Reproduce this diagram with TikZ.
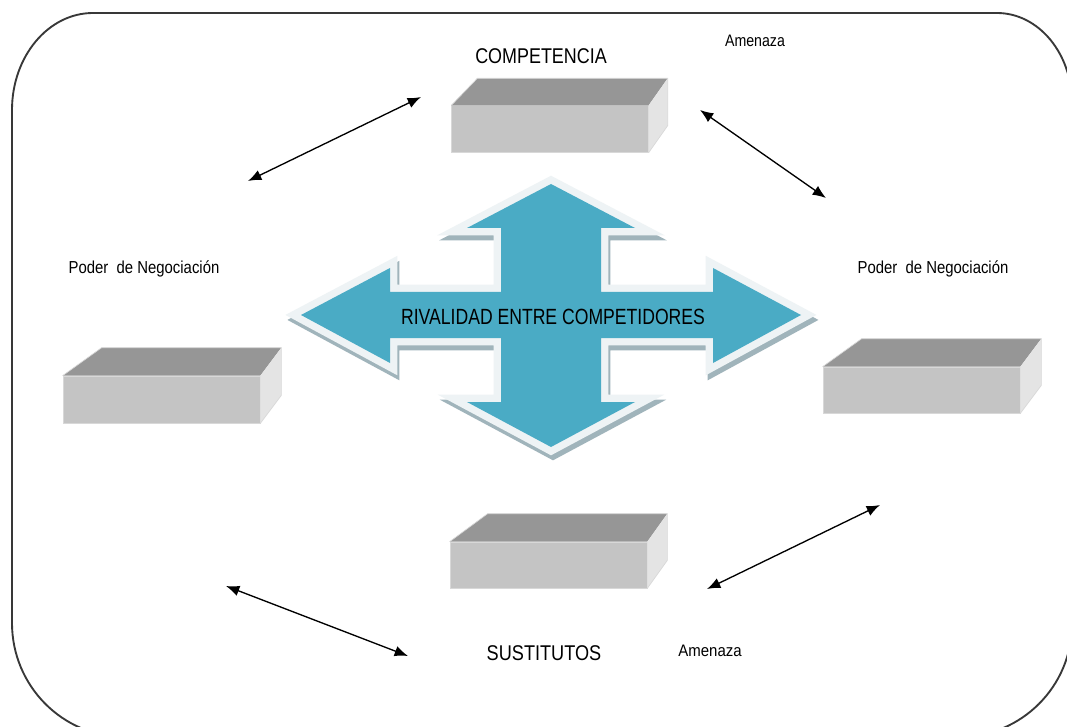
\documentclass[tikz,border=0pt]{standalone}
\usepackage{fontspec}
\setmainfont{Liberation Sans}
\usepackage{graphicx}
\usetikzlibrary{arrows.meta,calc}
\definecolor{rivalblue}{HTML}{4AABC5}
\definecolor{rimlight}{HTML}{EEF3F5}
\definecolor{rimshadow}{HTML}{A0B4BB}
\definecolor{boxtop}{HTML}{969696}
\definecolor{boxfront}{HTML}{C4C4C4}
\definecolor{boxside}{HTML}{E4E4E4}
\definecolor{boxedge}{HTML}{D8D8D8}
\definecolor{frameline}{HTML}{383838}
\newcommand\narrowtext[2]{\scalebox{#1}[1]{#2}}
\newcommand\slabfaces[4]{%
  \fill[boxtop] (#1.north west) -- ($(#1.north west)+(#2,-#4)$) -- ($(#1.north east)+(#3,-#4)$) -- (#1.north east) -- cycle;
  \fill[boxside] (#1.north east) -- ($(#1.north east)+(#3,-#4)$) -- ($(#1.south east)+(#3,-#4)$) -- (#1.south east) -- cycle;
  \draw[boxedge, line width=0.5pt] (#1.north west) -- ($(#1.north west)+(#2,-#4)$) -- ($(#1.north east)+(#3,-#4)$) -- ($(#1.south east)+(#3,-#4)$) -- (#1.south east);
}
\tikzset{
  slabfront/.style={draw=boxedge, line width=0.5pt, fill=boxfront, minimum width=147.5pt, minimum height=35pt, inner sep=0pt},
  conn/.style={{Latex[length=10pt,width=8pt]}-{Latex[length=10pt,width=8pt]}, line width=1pt, black},
  bigtxt/.style={font=\fontsize{16pt}{18pt}\selectfont, inner sep=0pt},
  smalltxt/.style={font=\fontsize{13pt}{15pt}\selectfont, inner sep=0pt},
  tinytxt/.style={font=\fontsize{12.5pt}{14pt}\selectfont, inner sep=0pt},
  crossshape/.style={insert path={(551,184) -- (635,228) -- (601,228) -- (601,292) -- (713,292) -- (713,268) -- (801,315) -- (713,363) -- (713,338) -- (601,338) -- (601,402) -- (635,402) -- (551,447) -- (467,402) -- (501,402) -- (501,338) -- (390,338) -- (390,363) -- (301,315) -- (390,268) -- (390,292) -- (501,292) -- (501,228) -- (467,228) -- cycle}}
}
\begin{document}
\begin{tikzpicture}[x=0.75pt, y=-0.75pt]
\useasboundingbox (0,0) rectangle (1067,727);
\clip (0,0) rectangle (1067,727);
\fill[white] (0,0) rectangle (1067,727);
% outer frame
\draw[frameline, line width=1.4pt] (12,623) -- (12,110)
  arc[start angle=180, end angle=270, x radius=81, y radius=97] -- (997,13)
  arc[start angle=270, end angle=360, x radius=75, y radius=90] -- (1072,624)
  arc[start angle=0, end angle=90, radius=113] -- (125,737)
  arc[start angle=90, end angle=180, x radius=113, y radius=114] -- cycle;

% central four-way arrow
\draw[shift={(2,5)}, draw=rimshadow, fill=rimshadow, line width=11pt, line join=miter, crossshape];
\draw[draw=rimlight, line width=11pt, line join=miter, crossshape];
\fill[rivalblue, crossshape];
\node[font=\fontsize{16.5pt}{18pt}\selectfont, inner sep=0pt] (rival) at (553,317) {\narrowtext{0.80}{RIVALIDAD ENTRE COMPETIDORES}};

% boxes
\node[slabfront] (boxtopn) at (550,129) {};
\slabfaces{boxtopn}{26}{19}{27}
\node[slabfront, minimum width=147.75pt, minimum height=35.25pt] (boxleft) at (161.5,399.5) {};
\slabfaces{boxleft}{39}{21}{28}
\node[slabfront, minimum width=147.75pt, minimum height=34.5pt] (boxright) at (921.5,390) {};
\slabfaces{boxright}{39}{21}{28}
\node[slabfront, minimum width=147.75pt, minimum height=34.5pt] (boxbottom) at (548.5,565) {};
\slabfaces{boxbottom}{38}{20}{28}

% labels
\node[bigtxt] (comp) at (541,56) {\narrowtext{0.84}{COMPETENCIA}};
\node[tinytxt] (amen1) at (755,41) {\narrowtext{0.85}{Amenaza}};
\node[smalltxt] (poderl) at (144,269) {\narrowtext{0.86}{Poder\ \ de Negociación}};
\node[smalltxt] (poderr) at (933,269) {\narrowtext{0.86}{Poder\ \ de Negociación}};
\node[bigtxt] (sust) at (544,653) {\narrowtext{0.85}{SUSTITUTOS}};
\node[tinytxt] (amen2) at (710,651) {\narrowtext{0.9}{Amenaza}};

% connectors
\coordinate (a1s) at (248,181); \coordinate (a1e) at (421,97);
\coordinate (a2s) at (700,110); \coordinate (a2e) at (826,198);
\coordinate (a3s) at (880,505); \coordinate (a3e) at (707,589);
\coordinate (a4s) at (226,586); \coordinate (a4e) at (408,656);
\draw[conn] (a1s) -- (a1e);
\draw[conn] (a2s) -- (a2e);
\draw[conn] (a3s) -- (a3e);
\draw[conn] (a4s) -- (a4e);
\end{tikzpicture}
\end{document}
